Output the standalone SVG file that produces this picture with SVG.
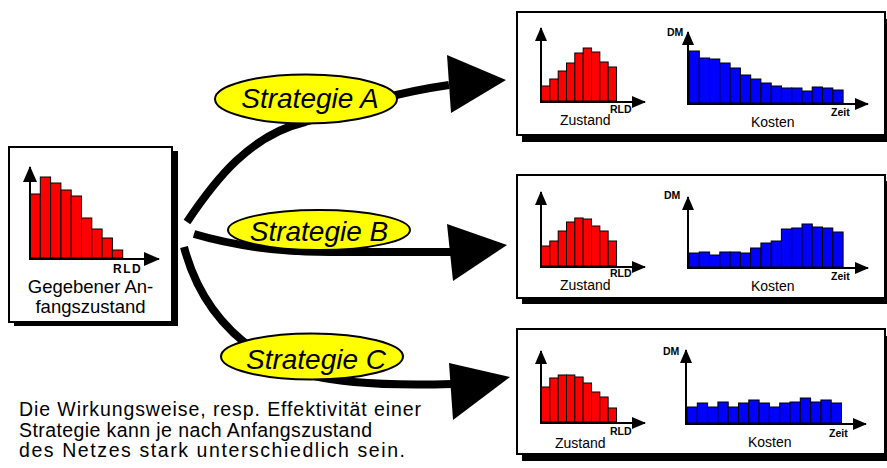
<svg xmlns="http://www.w3.org/2000/svg" width="887" height="468" viewBox="0 0 887 468">
<style>
.bg{fill:#fff}
.shadow{fill:#000}
.box{fill:#fff;stroke:#000;stroke-width:2}
.axis{stroke:#000;stroke-width:2;fill:none}
.axs{marker-end:url(#ah)}
.axl{marker-end:url(#ahL)}
.red rect{fill:#f00;stroke:#000;stroke-width:1}
.blue rect{fill:#00f;stroke:#000;stroke-width:1}
text{font-family:"Liberation Sans",Arial,Helvetica,sans-serif;fill:#000}
.lbl{font-size:14px}
.ax{font-size:10.5px;font-weight:bold}
.conn{fill:none;stroke:#000;stroke-width:8}
.head{fill:#000}
.ell{fill:#ff0;stroke:#000;stroke-width:2}
.strat{font-style:italic;font-size:28px;text-anchor:middle}
.big{font-size:18.5px;text-anchor:middle}
.note{font-size:19.5px}
</style>
<defs>
<marker id="ah" markerUnits="userSpaceOnUse" markerWidth="14" markerHeight="12" refX="13" refY="6" orient="auto"><path d="M0,0L14,6L0,12z" fill="#000"/></marker>
<marker id="ahL" markerUnits="userSpaceOnUse" markerWidth="16" markerHeight="14" refX="15" refY="7" orient="auto"><path d="M0,0L16,7L0,14z" fill="#000"/></marker>
</defs>
<rect class="bg" x="0" y="0" width="887" height="468"/>

<g id="connectors">
<path class="conn" d="M187,222 C215,180 250,135 305,122 C340,112 380,95 449,85"/>
<polygon class="head" points="447,55 506,80 451,113"/>
<path class="conn" d="M194,234 C235,246 280,252 330,252 C380,252 420,252 451,252"/>
<polygon class="head" points="447,224 507,245 453,281"/>
<path class="conn" d="M184,247 C198,300 230,340 280,365 C320,383 380,386 452,384"/>
<polygon class="head" points="449,363 510,377 453,420"/>
</g>

<g id="start">
<rect class="shadow" x="14" y="151" width="164" height="175"/>
<rect class="box" x="9" y="147" width="163" height="175"/>
<g class="red">
<rect x="30" y="194" width="10.3" height="64"/>
<rect x="40.3" y="177" width="10.3" height="81"/>
<rect x="50.6" y="183" width="10.3" height="75"/>
<rect x="60.9" y="190" width="10.3" height="68"/>
<rect x="71.2" y="196" width="10.3" height="62"/>
<rect x="81.5" y="218" width="10.3" height="40"/>
<rect x="91.8" y="229" width="10.3" height="29"/>
<rect x="102.1" y="238" width="10.3" height="20"/>
<rect x="112.4" y="250" width="10.3" height="8"/>
</g>
<path class="axis axl" d="M30,259V167"/>
<path class="axis axl" d="M29,259H159"/>
<text class="ax" x="113" y="273" style="font-size:12px;letter-spacing:1.5px">RLD</text>
<text class="big" x="90.5" y="293">Gegebener An-</text>
<text class="big" x="90.5" y="313">fangszustand</text>
</g>

<g id="strategyA">
<ellipse class="ell" cx="306" cy="99" rx="91" ry="24.5"/>
<text class="strat" x="310" y="108">Strategie A</text>
</g>
<g id="strategyB">
<ellipse class="ell" cx="319" cy="230" rx="91" ry="20"/>
<text class="strat" x="319" y="241">Strategie B</text>
</g>
<g id="strategyC">
<ellipse class="ell" cx="312" cy="356.5" rx="91" ry="23"/>
<text class="strat" x="316" y="369">Strategie C</text>
</g>

<g id="resultA">
<rect class="shadow" x="522" y="19" width="368" height="123"/>
<rect class="box" x="517" y="12" width="368" height="123"/>
<g class="red">
<rect x="541.5" y="86" width="8.33" height="15"/>
<rect x="549.8" y="79" width="8.33" height="22"/>
<rect x="558.2" y="71" width="8.33" height="30"/>
<rect x="566.5" y="63" width="8.33" height="38"/>
<rect x="574.8" y="53" width="8.33" height="48"/>
<rect x="583.2" y="48" width="8.33" height="53"/>
<rect x="591.5" y="52" width="8.33" height="49"/>
<rect x="599.8" y="62" width="8.33" height="39"/>
<rect x="608.2" y="67" width="8.33" height="34"/>
</g>
<path class="axis axs" d="M541,102V28"/>
<path class="axis axs" d="M540,102H645"/>
<text class="ax" x="610" y="113">RLD</text>
<text class="lbl" x="560" y="125">Zustand</text>
<g class="blue">
<rect x="689" y="51" width="10.3" height="52"/>
<rect x="699.3" y="58" width="10.3" height="45"/>
<rect x="709.5" y="59" width="10.3" height="44"/>
<rect x="719.8" y="63" width="10.3" height="40"/>
<rect x="730.1" y="68" width="10.3" height="35"/>
<rect x="740.4" y="75" width="10.3" height="28"/>
<rect x="750.6" y="79" width="10.3" height="24"/>
<rect x="760.9" y="83" width="10.3" height="20"/>
<rect x="771.2" y="86" width="10.3" height="17"/>
<rect x="781.4" y="88" width="10.3" height="15"/>
<rect x="791.7" y="88" width="10.3" height="15"/>
<rect x="802" y="91" width="10.3" height="12"/>
<rect x="812.2" y="87" width="10.3" height="16"/>
<rect x="822.5" y="88" width="10.3" height="15"/>
<rect x="832.8" y="90" width="10.3" height="13"/>
</g>
<path class="axis axs" d="M688,104V32"/>
<path class="axis axs" d="M687,104H868"/>
<text class="ax" x="667" y="36">DM</text>
<text class="ax" x="831" y="116">Zeit</text>
<text class="lbl" x="751" y="127">Kosten</text>
</g>

<g id="resultB">
<rect class="shadow" x="522" y="181" width="368" height="123"/>
<rect class="box" x="517" y="175" width="368" height="123"/>
<g class="red">
<rect x="541.5" y="246" width="8.33" height="20"/>
<rect x="549.8" y="241" width="8.33" height="25"/>
<rect x="558.2" y="231" width="8.33" height="35"/>
<rect x="566.5" y="222" width="8.33" height="44"/>
<rect x="574.8" y="218" width="8.33" height="48"/>
<rect x="583.2" y="219" width="8.33" height="47"/>
<rect x="591.5" y="226" width="8.33" height="40"/>
<rect x="599.8" y="231" width="8.33" height="35"/>
<rect x="608.2" y="241" width="8.33" height="25"/>
</g>
<path class="axis axs" d="M541,267V192"/>
<path class="axis axs" d="M540,267H645"/>
<text class="ax" x="610" y="277">RLD</text>
<text class="lbl" x="560" y="290">Zustand</text>
<g class="blue">
<rect x="689" y="253" width="10.3" height="14"/>
<rect x="699.3" y="252" width="10.3" height="15"/>
<rect x="709.5" y="255" width="10.3" height="12"/>
<rect x="719.8" y="252" width="10.3" height="15"/>
<rect x="730.1" y="252" width="10.3" height="15"/>
<rect x="740.4" y="253" width="10.3" height="14"/>
<rect x="750.6" y="248" width="10.3" height="19"/>
<rect x="760.9" y="243" width="10.3" height="24"/>
<rect x="771.2" y="241" width="10.3" height="26"/>
<rect x="781.4" y="229" width="10.3" height="38"/>
<rect x="791.7" y="228" width="10.3" height="39"/>
<rect x="802" y="224" width="10.3" height="43"/>
<rect x="812.2" y="227" width="10.3" height="40"/>
<rect x="822.5" y="228" width="10.3" height="39"/>
<rect x="832.8" y="232" width="10.3" height="35"/>
</g>
<path class="axis axs" d="M688,268V197"/>
<path class="axis axs" d="M687,268H868"/>
<text class="ax" x="664" y="199">DM</text>
<text class="ax" x="831" y="280">Zeit</text>
<text class="lbl" x="751" y="291">Kosten</text>
</g>

<g id="resultC">
<rect class="shadow" x="522" y="336" width="368" height="125"/>
<rect class="box" x="517" y="329" width="368" height="125"/>
<g class="red">
<rect x="541.5" y="387" width="8.33" height="35"/>
<rect x="549.8" y="378" width="8.33" height="44"/>
<rect x="558.2" y="375" width="8.33" height="47"/>
<rect x="566.5" y="375" width="8.33" height="47"/>
<rect x="574.8" y="377" width="8.33" height="45"/>
<rect x="583.2" y="383" width="8.33" height="39"/>
<rect x="591.5" y="392" width="8.33" height="30"/>
<rect x="599.8" y="397" width="8.33" height="25"/>
<rect x="608.2" y="408" width="8.33" height="14"/>
</g>
<path class="axis axs" d="M541,423V351"/>
<path class="axis axs" d="M540,423H645"/>
<text class="ax" x="610" y="435">RLD</text>
<text class="lbl" x="555" y="448">Zustand</text>
<g class="blue">
<rect x="687" y="407" width="10.3" height="16"/>
<rect x="697.3" y="403" width="10.3" height="20"/>
<rect x="707.6" y="407" width="10.3" height="16"/>
<rect x="717.9" y="402" width="10.3" height="21"/>
<rect x="728.2" y="407" width="10.3" height="16"/>
<rect x="738.5" y="403" width="10.3" height="20"/>
<rect x="748.8" y="400" width="10.3" height="23"/>
<rect x="759.1" y="403" width="10.3" height="20"/>
<rect x="769.4" y="407" width="10.3" height="16"/>
<rect x="779.7" y="403" width="10.3" height="20"/>
<rect x="790" y="402" width="10.3" height="21"/>
<rect x="800.3" y="398" width="10.3" height="25"/>
<rect x="810.6" y="402" width="10.3" height="21"/>
<rect x="820.9" y="400" width="10.3" height="23"/>
<rect x="831.2" y="403" width="10.3" height="20"/>
</g>
<path class="axis axs" d="M686,424V350"/>
<path class="axis axs" d="M685,424H866"/>
<text class="ax" x="663" y="355">DM</text>
<text class="ax" x="829" y="437">Zeit</text>
<text class="lbl" x="748" y="447">Kosten</text>
</g>

<g id="note">
<text class="note" x="19" y="416" textLength="402" lengthAdjust="spacing">Die Wirkungsweise, resp. Effektivität einer</text>
<text class="note" x="19" y="437" textLength="353" lengthAdjust="spacing">Strategie kann je nach Anfangszustand</text>
<text class="note" x="19" y="457" textLength="386" lengthAdjust="spacing">des Netzes stark unterschiedlich sein.</text>
</g>
</svg>
